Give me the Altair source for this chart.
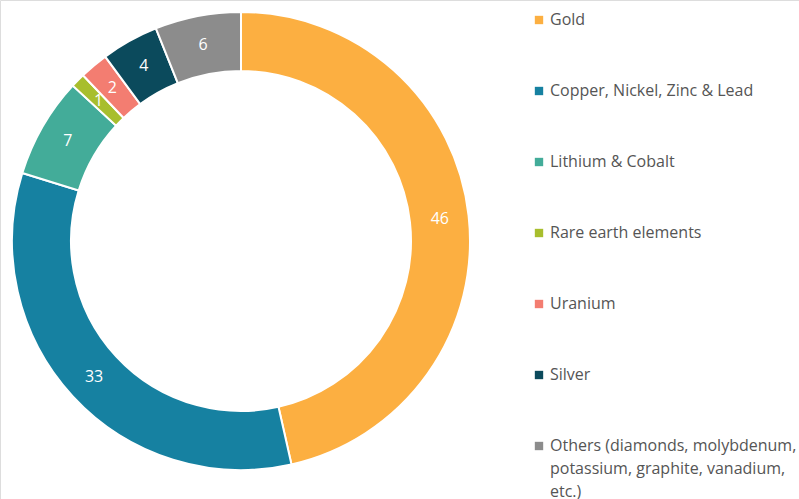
import altair as alt
import pandas as pd

categories = [
    "Gold",
    "Copper, Nickel, Zinc & Lead",
    "Lithium & Cobalt",
    "Rare earth elements",
    "Uranium",
    "Silver",
    "Others (diamonds, molybdenum,\npotassium, graphite, vanadium,\netc.)",
]
values = [46, 33, 7, 1, 2, 4, 6]
colors = ["#FCAF41", "#1681A1", "#43AC99", "#A8BE2D", "#F37D71", "#0B4A5C", "#8C8C8C"]

df = pd.DataFrame({"cat": categories, "value": values, "order": list(range(len(values)))})

CX, CY = 241, 241

color_scale = alt.Scale(domain=categories, range=colors)

base = alt.Chart(df).encode(
    theta=alt.Theta("value:Q", stack=True),
    order=alt.Order("order:Q"),
    x=alt.value(CX),
    y=alt.value(CY),
)

arcs = base.mark_arc(outerRadius=229, innerRadius=170, stroke="white", strokeWidth=2).encode(
    color=alt.Color(
        "cat:N",
        scale=color_scale,
        sort=categories,
        legend=alt.Legend(
            title=None,
            orient="none",
            legendX=531,
            legendY=12,
            symbolType="square",
            symbolSize=70,
            symbolStrokeWidth=0,
            labelFont="Open Sans",
            labelFontSize=16,
            labelColor="#555555",
            labelLimit=300,
            labelOffset=3,
            rowPadding=55,
            labelExpr="split(datum.label, '\\n')",
            labelBaseline="middle",
        ),
    )
)

labels = base.mark_text(radius=200, color="white", font="Open Sans", fontSize=16, fontWeight=500).encode(
    text=alt.Text("value:Q")
)

chart = (
    alt.layer(arcs, labels)
    .properties(width=799, height=499, autosize=alt.AutoSizeParams(type="none"), padding=0)
    .configure_view(stroke=None)
    .configure(style={"guide-label": {"lineHeight": 23}})
)

chart.save("out.html", embed_options={"renderer": "svg", "actions": False})
